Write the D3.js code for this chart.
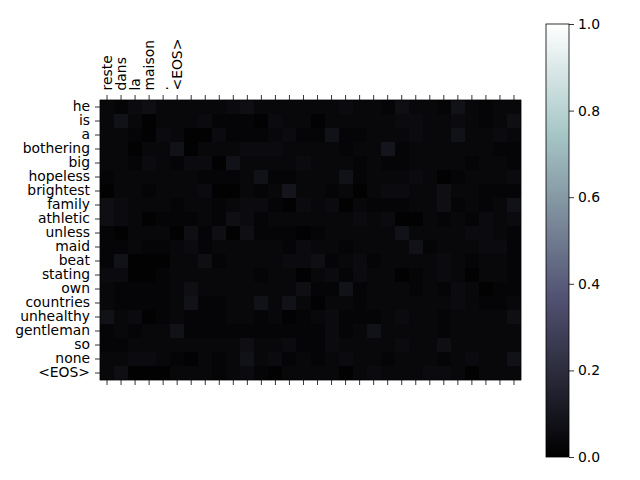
<!DOCTYPE html>
<html>
<head>
<meta charset="utf-8">
<script src="https://cdn.jsdelivr.net/npm/d3@7"></script>
<style>
  html, body { margin: 0; padding: 0; background: #fff; }
  svg { display: block; }
  text { font-family: "DejaVu Sans", sans-serif; }
</style>
</head>
<body>
<svg id="chart" width="640" height="480"></svg>
<script>
// ---- data ----
const inputWords = ["reste", "dans", "la", "maison", ".", "<EOS>"];
const outputWords = ["he", "is", "a", "bothering", "big", "hopeless", "brightest", "family",
  "athletic", "unless", "maid", "beat", "stating", "own", "countries", "unhealthy",
  "gentleman", "so", "none", "<EOS>"];
const nCols = 30;
const colorbarTicks = [0.0, 0.2, 0.4, 0.6, 0.8, 1.0];

// attention weights (rows = output words, 30 columns)
const attention = [
  [0.035,0.022,0.048,0.062,0.035,0.035,0.035,0.035,0.035,0.048,0.062,0.035,0.035,0.035,0.035, 0.035,0.035,0.048,0.035,0.035,0.022,0.062,0.035,0.035,0.022,0.076,0.035,0.022,0.035,0.035],
  [0.035,0.076,0.035,0.008,0.035,0.035,0.035,0.048,0.022,0.022,0.022,0.008,0.048,0.035,0.035, 0.008,0.035,0.035,0.035,0.035,0.035,0.048,0.048,0.035,0.035,0.048,0.035,0.022,0.035,0.062],
  [0.035,0.035,0.022,0.008,0.048,0.035,0.008,0.008,0.048,0.022,0.022,0.022,0.035,0.048,0.022, 0.022,0.076,0.022,0.022,0.035,0.035,0.035,0.048,0.035,0.035,0.076,0.035,0.035,0.048,0.035],
  [0.035,0.035,0.008,0.035,0.035,0.076,0.008,0.035,0.035,0.035,0.048,0.048,0.048,0.035,0.035, 0.035,0.035,0.022,0.035,0.035,0.090,0.022,0.035,0.035,0.035,0.035,0.035,0.035,0.022,0.022],
  [0.035,0.035,0.022,0.048,0.035,0.022,0.048,0.048,0.008,0.076,0.035,0.035,0.035,0.035,0.048, 0.035,0.035,0.035,0.022,0.035,0.022,0.022,0.035,0.035,0.035,0.035,0.022,0.035,0.035,0.022],
  [0.022,0.035,0.035,0.035,0.035,0.035,0.035,0.022,0.022,0.022,0.035,0.076,0.022,0.022,0.035, 0.035,0.035,0.076,0.022,0.035,0.035,0.035,0.048,0.035,0.008,0.022,0.035,0.035,0.035,0.048],
  [0.008,0.035,0.035,0.022,0.035,0.035,0.035,0.048,0.008,0.008,0.035,0.022,0.035,0.090,0.035, 0.035,0.022,0.035,0.008,0.035,0.048,0.048,0.035,0.035,0.062,0.035,0.035,0.022,0.022,0.022],
  [0.062,0.048,0.035,0.035,0.035,0.022,0.035,0.035,0.022,0.035,0.048,0.048,0.022,0.008,0.048, 0.035,0.048,0.008,0.035,0.022,0.022,0.022,0.035,0.035,0.062,0.022,0.035,0.022,0.035,0.076],
  [0.062,0.048,0.035,0.008,0.022,0.022,0.022,0.035,0.022,0.062,0.048,0.022,0.035,0.035,0.035, 0.035,0.035,0.035,0.048,0.035,0.048,0.008,0.008,0.035,0.022,0.035,0.022,0.048,0.035,0.048],
  [0.022,0.008,0.035,0.035,0.035,0.008,0.062,0.022,0.062,0.008,0.062,0.022,0.022,0.022,0.008, 0.022,0.035,0.035,0.035,0.035,0.035,0.076,0.035,0.035,0.035,0.035,0.048,0.048,0.035,0.022],
  [0.022,0.022,0.035,0.022,0.022,0.035,0.048,0.022,0.035,0.035,0.035,0.035,0.035,0.022,0.048, 0.035,0.035,0.022,0.035,0.035,0.035,0.035,0.076,0.022,0.035,0.035,0.035,0.048,0.048,0.022],
  [0.022,0.076,0.008,0.008,0.008,0.035,0.035,0.062,0.022,0.035,0.035,0.035,0.035,0.048,0.048, 0.062,0.022,0.035,0.048,0.022,0.035,0.035,0.035,0.035,0.048,0.035,0.022,0.035,0.035,0.022],
  [0.048,0.048,0.008,0.008,0.022,0.035,0.035,0.035,0.035,0.035,0.035,0.022,0.035,0.035,0.008, 0.035,0.048,0.022,0.048,0.035,0.035,0.008,0.022,0.035,0.048,0.035,0.008,0.035,0.035,0.022],
  [0.035,0.022,0.022,0.022,0.022,0.035,0.062,0.035,0.035,0.035,0.035,0.035,0.035,0.035,0.062, 0.022,0.022,0.076,0.022,0.035,0.035,0.035,0.022,0.035,0.022,0.048,0.035,0.008,0.022,0.022],
  [0.035,0.022,0.022,0.022,0.022,0.035,0.076,0.022,0.022,0.035,0.035,0.076,0.035,0.076,0.035, 0.008,0.035,0.035,0.022,0.035,0.035,0.035,0.035,0.035,0.035,0.048,0.035,0.022,0.022,0.035],
  [0.076,0.035,0.048,0.008,0.022,0.035,0.022,0.022,0.022,0.035,0.035,0.022,0.035,0.008,0.022, 0.035,0.048,0.022,0.022,0.022,0.035,0.048,0.035,0.035,0.022,0.035,0.035,0.035,0.035,0.062],
  [0.022,0.035,0.022,0.035,0.035,0.076,0.022,0.022,0.022,0.022,0.022,0.022,0.022,0.022,0.022, 0.022,0.048,0.022,0.035,0.076,0.035,0.035,0.035,0.035,0.022,0.035,0.035,0.035,0.035,0.035],
  [0.022,0.022,0.035,0.035,0.035,0.035,0.035,0.035,0.035,0.035,0.062,0.035,0.035,0.048,0.022, 0.022,0.048,0.035,0.035,0.035,0.035,0.048,0.035,0.035,0.062,0.035,0.035,0.035,0.035,0.035],
  [0.035,0.035,0.048,0.048,0.035,0.022,0.008,0.035,0.022,0.035,0.076,0.035,0.048,0.022,0.035, 0.022,0.035,0.048,0.035,0.035,0.022,0.035,0.035,0.035,0.022,0.035,0.048,0.035,0.035,0.076],
  [0.035,0.062,0.008,0.008,0.008,0.035,0.035,0.035,0.022,0.035,0.048,0.022,0.008,0.035,0.035, 0.035,0.035,0.008,0.035,0.048,0.035,0.035,0.035,0.048,0.048,0.035,0.008,0.035,0.035,0.035]
];

// matplotlib "bone" colormap breakpoints (piecewise linear in r, g, b)
const boneStops = [
  [0.0,      [0.0,      0.0,      0.0]],
  [0.365079, [0.319444, 0.319444, 0.444444]],
  [0.746032, [0.652778, 0.777778, 0.777778]],
  [1.0,      [1.0,      1.0,      1.0]]
];

function bone(v) {
  v = Math.max(0, Math.min(1, v));
  for (let i = 1; i < boneStops.length; i++) {
    const [t1, c1] = boneStops[i];
    const [t0, c0] = boneStops[i - 1];
    if (v <= t1) {
      const f = (v - t0) / (t1 - t0);
      const c = c0.map((a, k) => Math.round(255 * (a + (c1[k] - a) * f)));
      return `rgb(${c[0]},${c[1]},${c[2]})`;
    }
  }
  return "rgb(255,255,255)";
}

// ---- layout ----
const svg = d3.select("#chart");
const FONT = 13.9;
const L = 100, R = 521, T = 100, B = 380;

const x = d3.scaleBand().domain(d3.range(nCols)).range([L, R]).padding(0);
const y = d3.scaleBand().domain(d3.range(outputWords.length)).range([T, B]).padding(0);

const cells = [];
attention.forEach((row, i) => row.forEach((v, j) => cells.push({ i, j, v })));

svg.append("g").selectAll("rect").data(cells).join("rect")
  .attr("x", d => x(d.j))
  .attr("y", d => y(d.i))
  .attr("width", x.bandwidth() + 0.3)
  .attr("height", y.bandwidth() + 0.3)
  .attr("fill", d => bone(d.v))
  .attr("shape-rendering", "crispEdges");

svg.append("rect")
  .attr("x", L).attr("y", T).attr("width", R - L).attr("height", B - T)
  .attr("fill", "none").attr("stroke", "#000").attr("stroke-width", 0.8);

function styleAxis(g) {
  g.select(".domain").remove();
  g.selectAll(".tick line").attr("stroke", "#000").attr("stroke-width", 0.8);
  g.selectAll(".tick text").attr("fill", "#000")
    .style("font-family", "'DejaVu Sans', sans-serif").style("font-size", FONT + "px");
}

// top axis with rotated labels
const xTop = svg.append("g").attr("transform", `translate(0,${T})`)
  .call(d3.axisTop(x).tickSize(5).tickPadding(4.5).tickFormat(j => inputWords[j] || ""));
styleAxis(xTop);
xTop.selectAll(".tick text")
  .attr("transform", "rotate(-90)")
  .attr("x", 9.5).attr("y", 0).attr("dy", "0.35em")
  .attr("text-anchor", "start");

// bottom axis ticks only
const xBot = svg.append("g").attr("transform", `translate(0,${B})`)
  .call(d3.axisBottom(x).tickSize(5).tickFormat(() => ""));
styleAxis(xBot);

// left axis
const yAx = svg.append("g").attr("transform", `translate(${L},0)`)
  .call(d3.axisLeft(y).tickSize(5).tickPadding(5).tickFormat(i => outputWords[i]));
styleAxis(yAx);

// ---- colorbar ----
const CB = { x: 546, w: 23, top: 24, bottom: 457 };
const cScale = d3.scaleLinear().domain([0, 1]).range([CB.bottom, CB.top]);

const defs = svg.append("defs");
const grad = defs.append("linearGradient").attr("id", "boneGrad")
  .attr("x1", 0).attr("y1", 1).attr("x2", 0).attr("y2", 0);
grad.selectAll("stop").data(boneStops).join("stop")
  .attr("offset", d => d[0])
  .attr("stop-color", d => bone(d[0]));

svg.append("rect")
  .attr("x", CB.x).attr("y", CB.top).attr("width", CB.w).attr("height", CB.bottom - CB.top)
  .attr("fill", "url(#boneGrad)").attr("stroke", "#000").attr("stroke-width", 0.8);

const cAx = svg.append("g").attr("transform", `translate(${CB.x + CB.w},0)`)
  .call(d3.axisRight(cScale).tickValues(colorbarTicks).tickSize(5).tickPadding(4)
    .tickFormat(d3.format(".1f")));
styleAxis(cAx);
</script>
</body>
</html>
